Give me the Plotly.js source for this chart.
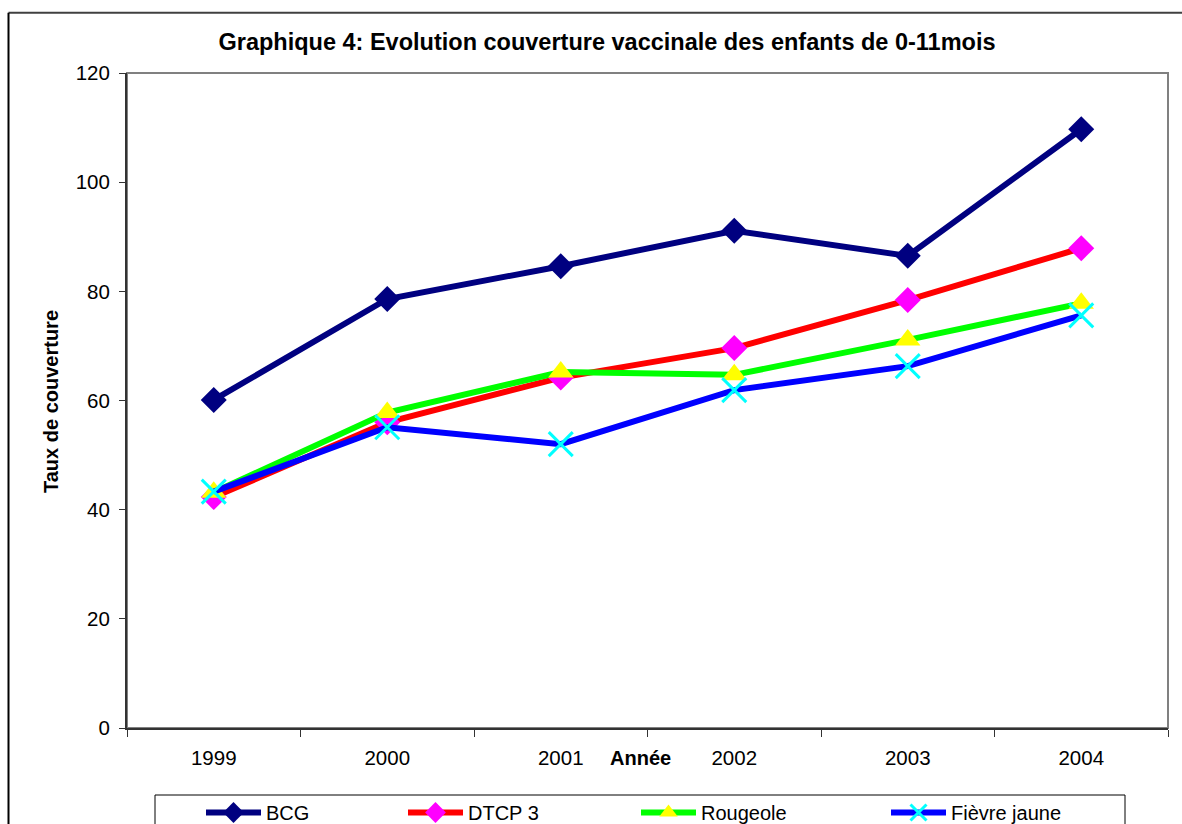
<!DOCTYPE html>
<html><head><meta charset="utf-8">
<script src="https://cdn.plot.ly/plotly-3.0.1.min.js"></script>
<style>html,body{margin:0;padding:0;background:#fff;}#chart{width:1182px;height:824px;}</style>
</head><body><div id="chart"></div>
<script>
const years = ["1999","2000","2001","2002","2003","2004"];
const bcg = [60.1, 78.6, 84.6, 91.1, 86.5, 109.7];
const dtcp3 = [42.3, 56.0, 64.2, 69.6, 78.4, 87.9];
const rougeole = [43.2, 57.8, 65.2, 64.7, 71.1, 77.8];
const fievreJaune = [43.3, 55.1, 52.0, 61.9, 66.3, 75.6];
const yTicks = [0, 20, 40, 60, 80, 100, 120];

const font = "Liberation Sans, Arial, sans-serif";
const L = 127, R = 1168, T = 73, B = 728;
const PW = R - L, PH = B - T;
const px = v => (v - L) / PW;
const py = v => (B - v) / PH;

const traces = [
  {name:"BCG", x:years, y:bcg, mode:"lines+markers", legend:"legend",
   line:{color:"#000080", width:6}, marker:{symbol:"diamond", size:20, color:"#000080"}},
  {name:"DTCP 3", x:years, y:dtcp3, mode:"lines+markers", legend:"legend2",
   line:{color:"#FF0000", width:6}, marker:{symbol:"diamond", size:20, color:"#FF00FF"}},
  {name:"Rougeole", x:years, y:rougeole, mode:"lines+markers", legend:"legend3",
   line:{color:"#00FF00", width:6}, marker:{symbol:"triangle-up", size:22, color:"#FFFF00"}},
  {name:"Fièvre jaune", x:years, y:fievreJaune, mode:"lines+markers", legend:"legend4",
   line:{color:"#0000FF", width:6}, marker:{symbol:"x-thin-open", size:24, color:"#00FFFF", line:{color:"#00FFFF", width:3}}}
];

function leg(xStart) {
  return {orientation:"h", x:px(xStart), xanchor:"left", y:py(793), yanchor:"top",
          bgcolor:"rgba(0,0,0,0)", borderwidth:0, itemwidth:55,
          font:{family:font, size:20, color:"#000"}, itemclick:false};
}

const layout = {
  width:1182, height:824,
  margin:{l:L, r:1182-R, t:T, b:824-B, autoexpand:false},
  paper_bgcolor:"#fff", plot_bgcolor:"#fff",
  font:{family:font, size:20, color:"#000"},
  showlegend:true,
  title:{text:"<b>Graphique 4: Evolution couverture vaccinale des enfants de 0-11mois</b>",
         font:{family:font, size:23.5, color:"#000"}, xref:"paper", x:px(607), xanchor:"center",
         yref:"container", y:1-42/824, yanchor:"middle"},
  xaxis:{type:"category", range:[-0.5,5.5], tickson:"boundaries", ticks:"outside", ticklen:7,
         tickcolor:"#333", showline:true, linecolor:"#333", linewidth:2, showgrid:false,
         zeroline:false, tickfont:{family:font, size:20.5}, ticklabelstandoff:10, fixedrange:true},
  yaxis:{range:[0,120], tickvals:yTicks, ticktext:yTicks.map(String), ticks:"outside", ticklen:6,
         tickcolor:"#333", showline:true, linecolor:"#333", linewidth:2, showgrid:false,
         zeroline:false, tickfont:{family:font, size:20.5}, ticklabelstandoff:5, fixedrange:true},
  legend:leg(201), legend2:leg(403), legend3:leg(636), legend4:leg(886),
  shapes:[
    {type:"rect", xref:"paper", yref:"paper", x0:0, x1:1, y0:0, y1:1,
     line:{color:"#808080", width:2}, layer:"below"},
    {type:"line", xref:"paper", yref:"paper", x0:px(8.5), x1:1.05, y0:py(12.7), y1:py(12.7),
     line:{color:"#404040", width:2}, layer:"below"},
    {type:"line", xref:"paper", yref:"paper", x0:px(8.5), x1:px(8.5), y0:py(12.7), y1:-0.3,
     line:{color:"#000", width:2}, layer:"below"},
    {type:"rect", xref:"paper", yref:"paper", x0:px(155), x1:px(1125), y0:-0.3, y1:py(795),
     line:{color:"#000", width:1}, fillcolor:"#fff", layer:"below"}
  ],
  annotations:[
    {text:"<b>Année</b>", xref:"paper", yref:"paper", x:px(640), y:py(758),
     xanchor:"center", yanchor:"middle", showarrow:false, font:{family:font, size:20}},
    {text:"<b>Taux de couverture</b>", xref:"paper", yref:"paper", x:px(51), y:py(402),
     xanchor:"center", yanchor:"middle", textangle:-90, showarrow:false, font:{family:font, size:20}}
  ]
};

Plotly.newPlot("chart", traces, layout, {displayModeBar:false, staticPlot:true});
</script></body></html>
